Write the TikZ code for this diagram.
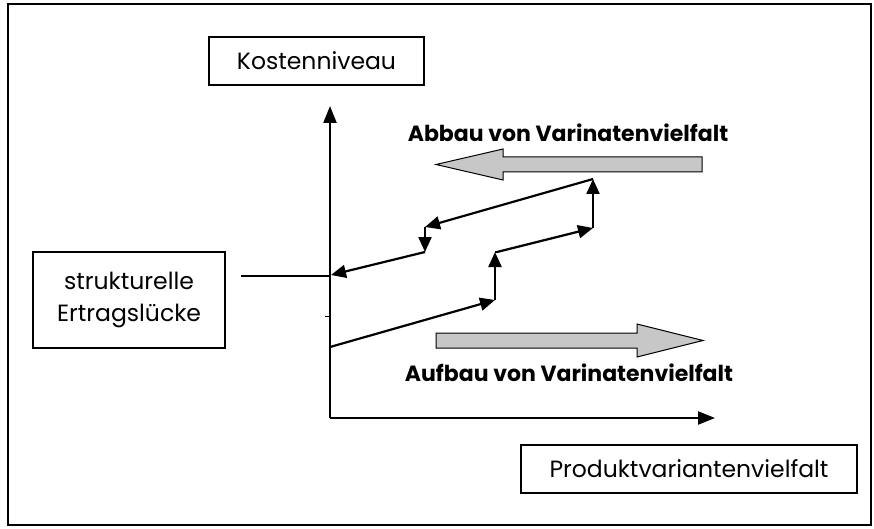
\documentclass[tikz,border=0pt]{standalone}
\usepackage{fontspec}
\setmainfont{Poppins}
\usetikzlibrary{arrows.meta}
\begin{document}
\begin{tikzpicture}[x=1pt,y=-1pt,
  labelbox/.style={draw,line width=1.3pt,inner sep=0pt,font=\fontsize{23.5}{32}\selectfont},
  axis/.style={line width=2.3pt,-{Triangle[length=17pt,width=13pt]}},
  stepline/.style={line width=2.2pt,-{Triangle[length=15pt,width=13pt]}},
  bigarrow/.style={draw=black,line width=1pt,fill=black!22},
  boldlabel/.style={font=\bfseries\fontsize{22}{26}\selectfont}]
\useasboundingbox (0,0) rectangle (874,529);
% outer frame
\draw[line width=1.3pt] (8,4) rectangle (871,525);
% label boxes
\node[labelbox,minimum width=215pt,minimum height=48pt] (kosten) at (316.5,61) {Kostenniveau};
\node[labelbox,minimum width=192pt,minimum height=96pt,align=center] (luecke) at (129,300) {strukturelle\\Ertragslücke};
\node[labelbox,minimum width=336pt,minimum height=48pt] (produkt) at (689,469) {Produktvariantenvielfalt};
% axes
\coordinate (origin) at (330,418);
\coordinate (ytip) at (330,106);
\coordinate (xtip) at (715,418);
\draw[axis] (origin) -- (ytip);
\draw[axis] (origin) -- (xtip);
\coordinate (tickL) at (325,316);
\coordinate (tickR) at (329,316);
\draw[line width=0.8pt] (tickL) -- (tickR);
% link from the label to the axis
\coordinate (gap) at (330,276);
\draw[line width=1.1pt] (luecke.east |- gap) ++(15,0) coordinate (gapstart) (gapstart) -- (gap);
% growth path
\coordinate (a0) at (330,347);
\coordinate (a1) at (495,300);
\coordinate (a2) at (495,252);
\coordinate (a3) at (497,252);
\coordinate (a4) at (593,228);
\coordinate (a5) at (593,179);
\draw[stepline] (a0) -- (a1);
\draw[stepline] (a1) -- (a2);
\draw[line width=2.2pt] (a2) -- (a3);
\draw[stepline] (a3) -- (a4);
\draw[stepline] (a4) -- (a5);
% reduction path
\coordinate (b1) at (425,227);
\coordinate (b2) at (425,252);
\coordinate (b3) at (331,275);
\draw[stepline] (a5) -- (b1);
\draw[stepline] (b1) -- (b2);
\draw[stepline] (b2) -- (b3);
% broad grey arrows
\draw[bigarrow] (702,157) -- (503,157) -- (503,149) -- (436,164.5) -- (503,180) -- (503,172) -- (702,172) -- cycle;
\draw[bigarrow] (436,333) -- (637,333) -- (637,324) -- (703,340.5) -- (637,357) -- (637,348) -- (436,348) -- cycle;
% arrow captions
\node[boldlabel] (abbau) at (568,133) {Abbau von Varinatenvielfalt};
\node[boldlabel] (aufbau) at (569,373) {Aufbau von Varinatenvielfalt};
\end{tikzpicture}
\end{document}
